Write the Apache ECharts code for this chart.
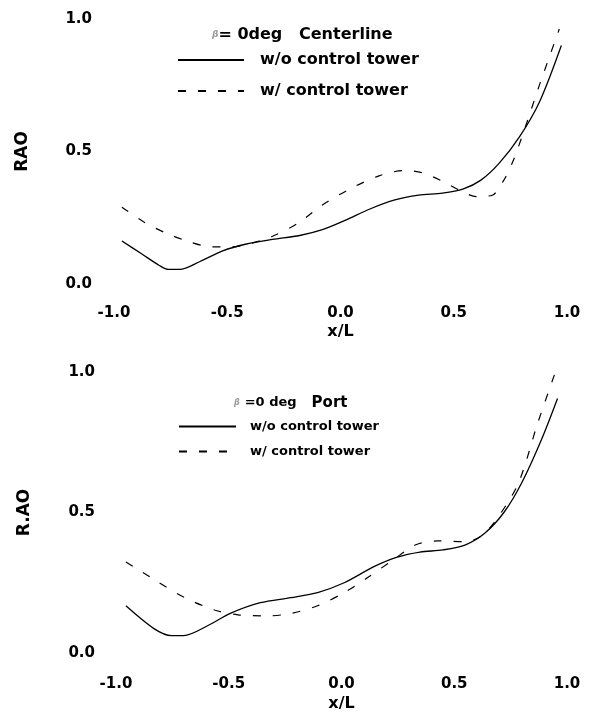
<!DOCTYPE html>
<html lang="en">
<head>
    <meta charset="UTF-8">
    <title>RAO</title>
    <script src="https://cdn.jsdelivr.net/npm/echarts@6/dist/echarts.min.js"></script>
    <style>
        body { margin: 0; background: #fff; }
    </style>
</head>
<body>
<div id="main" style="width: 598px;height:713px;"></div>
</body>
<script>
    // x/L, RAO pairs
    var centerNoTower = [[-0.965,0.162],[-0.88,0.115],[-0.80,0.07],[-0.76,0.055],[-0.71,0.055],[-0.62,0.085],[-0.52,0.125],[-0.42,0.150],[-0.30,0.168],[-0.18,0.183],[-0.08,0.205],[0.02,0.24],[0.13,0.283],[0.24,0.317],[0.345,0.335],[0.45,0.343],[0.54,0.358],[0.62,0.392],[0.70,0.455],[0.79,0.555],[0.88,0.69],[0.975,0.90]];
    var centerTower = [[-0.965,0.29],[-0.87,0.235],[-0.77,0.192],[-0.67,0.16],[-0.57,0.14],[-0.48,0.14],[-0.40,0.152],[-0.30,0.18],[-0.19,0.228],[-0.08,0.298],[0.04,0.358],[0.17,0.408],[0.28,0.428],[0.36,0.42],[0.445,0.39],[0.53,0.352],[0.60,0.33],[0.67,0.335],[0.72,0.39],[0.76,0.46],[0.815,0.59],[0.88,0.755],[0.966,0.962]];
    var portNoTower = [[-0.956,0.168],[-0.83,0.086],[-0.754,0.062],[-0.70,0.062],[-0.594,0.097],[-0.493,0.141],[-0.36,0.179],[-0.224,0.197],[-0.106,0.215],[0.012,0.25],[0.146,0.308],[0.247,0.341],[0.348,0.359],[0.45,0.367],[0.55,0.385],[0.635,0.426],[0.72,0.50],[0.80,0.607],[0.887,0.76],[0.958,0.906]];
    var portTower = [[-0.956,0.324],[-0.83,0.261],[-0.695,0.197],[-0.56,0.152],[-0.46,0.136],[-0.325,0.132],[-0.224,0.141],[-0.106,0.168],[0.012,0.215],[0.113,0.267],[0.23,0.332],[0.33,0.385],[0.43,0.399],[0.55,0.396],[0.626,0.42],[0.70,0.49],[0.786,0.607],[0.87,0.818],[0.946,0.994]];
    var seriesNames = ['w/o control tower', 'w/ control tower'];

    var font = 'DejaVu Sans';
    var myChart = echarts.init(document.getElementById('main'));

    function xAxis(idx, gap, nameGap) {
        return {
            gridIndex: idx, type: 'value', min: -1, max: 1, interval: 0.5,
            name: 'x/L', nameLocation: 'middle', nameGap: nameGap,
            nameTextStyle: { fontFamily: font, fontWeight: 'bold', fontSize: 16, color: '#000' },
            axisLine: { show: false }, axisTick: { show: false }, splitLine: { show: false },
            axisLabel: {
                margin: gap, color: '#000', fontFamily: font, fontWeight: 'bold', fontSize: 15,
                formatter: function (v) { return v.toFixed(1); }
            }
        };
    }
    function yAxis(idx, name, gap) {
        return {
            gridIndex: idx, type: 'value', min: 0, max: 1, interval: 0.5,
            name: name, nameLocation: 'middle', nameGap: 83, nameRotate: 90,
            nameTextStyle: { fontFamily: font, fontWeight: 'bold', fontSize: 17, color: '#000' },
            axisLine: { show: false }, axisTick: { show: false }, splitLine: { show: false },
            axisLabel: {
                margin: gap, color: '#000', fontFamily: font, fontWeight: 'bold', fontSize: 15,
                formatter: function (v) { return v.toFixed(1); }
            }
        };
    }
    function line(name, idx, data, dashed) {
        return {
            name: name, type: 'line', xAxisIndex: idx, yAxisIndex: idx,
            data: data, symbol: 'none', smooth: 0.3, silent: true,
            itemStyle: { color: '#000' },
            lineStyle: { color: '#000', width: dashed ? 1.2 : 1.3, type: dashed ? [8, 12] : 'solid' }
        };
    }
    var noMarker = { color: 'transparent', borderWidth: 0, opacity: 0 };

    var option = {
        animation: false,
        backgroundColor: '#fff',
        title: [
            {
                left: 207, top: 22,
                text: '{s|β}{a|= 0deg   Centerline}',
                textStyle: { rich: {
                    s: { fontSize: 9, color: '#999', fontFamily: font, fontStyle: 'italic' },
                    a: { fontSize: 16, fontWeight: 'bold', color: '#000', fontFamily: font }
                } }
            },
            {
                left: 229, top: 389,
                text: '{s|β} {a|=0 deg}   {b|Port}',
                textStyle: { rich: {
                    s: { fontSize: 8, color: '#999', fontFamily: font, fontStyle: 'italic' },
                    a: { fontSize: 13, fontWeight: 'bold', color: '#000', fontFamily: font },
                    b: { fontSize: 15, fontWeight: 'bold', color: '#000', fontFamily: font }
                } }
            }
        ],
        legend: [
            {
                left: 172, top: 47, orient: 'vertical', selectedMode: false,
                itemWidth: 66, itemHeight: 16, itemGap: 15, data: seriesNames,
                itemStyle: noMarker,
                textStyle: { fontFamily: font, fontWeight: 'bold', fontSize: 16, color: '#000', padding: [0, 0, 0, 11] }
            },
            {
                left: 173, top: 415, orient: 'vertical', selectedMode: false,
                itemWidth: 57, itemHeight: 14, itemGap: 12, data: seriesNames,
                itemStyle: noMarker,
                textStyle: { fontFamily: font, fontWeight: 'bold', fontSize: 13, color: '#000', padding: [0, 0, 0, 9] }
            }
        ],
        grid: [
            { left: 114, top: 19, width: 453, height: 265 },
            { left: 116, top: 372, width: 451, height: 284 }
        ],
        xAxis: [xAxis(0, 22, 40), xAxis(1, 24, 43)],
        yAxis: [yAxis(0, 'RAO', 22), yAxis(1, 'R.AO', 21)],
        series: [
            line(seriesNames[0], 0, centerNoTower, false),
            line(seriesNames[1], 0, centerTower, true),
            line(seriesNames[0], 1, portNoTower, false),
            line(seriesNames[1], 1, portTower, true)
        ]
    };
    myChart.setOption(option);
</script>
</html>
